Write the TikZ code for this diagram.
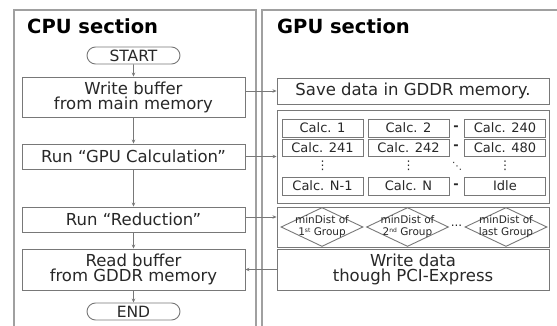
\documentclass[tikz,border=0pt]{standalone}
\usepackage{fontspec}
\setmainfont{DejaVu Sans}
\usetikzlibrary{shapes.geometric,shapes.misc,arrows.meta}
\definecolor{ln}{RGB}{120,120,120}
\definecolor{pn}{RGB}{160,160,160}
\definecolor{tx}{RGB}{40,40,40}
\newcommand{\mysup}[1]{\raisebox{3pt}{\fontsize{6}{6}\selectfont #1}}
\tikzset{
  box/.style={draw=ln, line width=0.9pt, rectangle, inner sep=0pt, text=tx, align=center,
    font=\fontsize{16.5}{15}\selectfont},
  cbox/.style={draw=ln, line width=0.9pt, rectangle, inner sep=0pt, text=tx,
    minimum width=81, minimum height=18, font=\fontsize{13}{13}\selectfont},
  term/.style={draw=ln, line width=0.9pt, rounded rectangle, inner sep=0pt, text=tx,
    minimum width=93, minimum height=17, font=\fontsize{15.5}{15}\selectfont},
  dia/.style={draw=ln, line width=0.9pt, diamond, aspect=2.1, inner sep=0pt,
    minimum width=82, minimum height=39},
  dtxt/.style={text=tx, inner sep=0pt, align=center, font=\fontsize{10.5}{12}\selectfont},
  arr/.style={draw=ln, line width=0.8pt, -{Stealth[length=4pt,width=3.5pt]}},
  panel/.style={draw=pn, line width=1.3pt},
  ttl/.style={font=\bfseries\fontsize{19.5}{19}\selectfont, text=black, anchor=west, inner sep=0pt},
  txt/.style={text=tx, inner sep=0pt}
}
\begin{document}
\begin{tikzpicture}[x=1pt,y=-1pt]
\useasboundingbox[fill=white] (0,0) rectangle (557,326);
% panels
\draw[panel] (14,335) -- (14,10) -- (256,10) -- (256,335);
\draw[panel] (262,335) -- (262,10) -- (560,10);
\node[ttl] (cput) at (27,26) {CPU section};
\node[ttl] (gput) at (277,26) {GPU section};
% CPU
\node[term] (start) at (133.5,55.5) {START};
\node[box, minimum width=223, minimum height=40] (wb) at (133.5,97) {Write buffer\\from main memory};
\node[box, minimum width=223, minimum height=25] (rg) at (133.5,156.5) {Run “GPU Calculation”};
\node[box, minimum width=223, minimum height=25] (rr) at (133.5,219.5) {Run “Reduction”};
\node[box, minimum width=223, minimum height=41] (rb) at (133.5,269.5) {Read buffer\\from GDDR memory};
\node[term] (end) at (133.5,311.5) {END};
\draw[arr] (start) -- (wb);
\draw[arr] (wb) -- (rg);
\draw[arr] (rg) -- (rr);
\draw[arr] (rr) -- (rb);
\draw[arr] (rb) -- (end);
% GPU
\node[box, minimum width=272, minimum height=26] (save) at (413,91) {Save data in GDDR memory.};
\node[box, minimum width=272, minimum height=93] (calc) at (413,156.5) {};
\node[box, minimum width=272, minimum height=40] (red) at (413,227) {};
\node[box, minimum width=272, minimum height=41] (wd) at (413,269.5) {Write data\\though PCI-Express};
% calc grid
\node[cbox] (c11) at (322.5,128) {Calc. 1};
\node[cbox] (c12) at (408.5,128) {Calc. 2};
\node[cbox] (c13) at (505,128) {Calc. 240};
\node[cbox, minimum height=17] (c21) at (322.5,147.5) {Calc. 241};
\node[cbox, minimum height=17] (c22) at (408.5,147.5) {Calc. 242};
\node[cbox, minimum height=17] (c23) at (505,147.5) {Calc. 480};
\node[cbox] (c41) at (322.5,186) {Calc. N-1};
\node[cbox] (c42) at (408.5,186) {Calc. N};
\node[cbox] (c43) at (505,186) {Idle};
\foreach \r/\y in {1/128,2/147.5,4/186}{
  \node[txt, font=\bfseries\fontsize{13}{13}\selectfont] (dash\r) at (456,\y) {-};
}
\foreach \c/\x in {1/322.5,2/408.5,3/505}{
  \node[txt, font=\fontsize{12}{12}\selectfont] (vd\c) at (\x,166) {⋮};
}
\node[txt, font=\fontsize{10}{10}\selectfont] (dd) at (457,166) {⋱};
% diamonds
\node[dia] (d1) at (322,227) {};
\node[dia] (d2) at (407.5,227) {};
\node[dia] (d3) at (506,227) {};
\node[dtxt] (t1) at (d1) {minDist of\\1\mysup{st} Group};
\node[dtxt] (t2) at (d2) {minDist of\\2\mysup{nd} Group};
\node[dtxt] (t3) at (d3) {minDist of\\last Group};
\node[txt, font=\fontsize{12}{12}\selectfont] (dots) at (456.5,226) {...};
% cross arrows
\draw[arr] (wb.east |- save.west) -- (save.west);
\draw[arr] (rg.east) -- (rg.east -| calc.west);
\draw[arr] (rr.east |- 0,217) -- (red.west |- 0,217);
\draw[arr] (wd.west) -- (wd.west -| rb.east);
\end{tikzpicture}
\end{document}
